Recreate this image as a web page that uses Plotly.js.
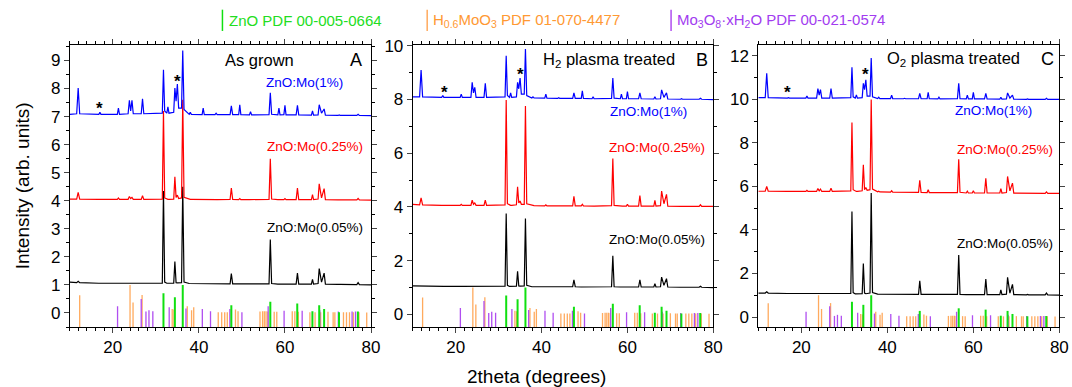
<!DOCTYPE html>
<html>
<head>
<meta charset="utf-8">
<script src="https://cdn.plot.ly/plotly-3.0.1.min.js"></script>
<style>html,body{margin:0;padding:0;background:#fff;}#chart{width:1072px;height:387px;}</style>
</head>
<body>
<div id="chart"></div>
<script>
// shared 2theta sampling grid (degrees)
const twoTheta = [10,11.6,11.95,12.3,16.75,17.0,17.25,21.05,21.3,21.55,23.55,23.85,24.15,24.45,24.75,26.6,26.9,27.2,31.5,31.77,32.05,32.55,32.8,33.05,34.15,34.42,34.7,35.0,35.3,35.97,36.25,36.55,37.75,38.0,38.25,40.75,41.0,41.25,43.75,44.0,44.25,47.25,47.54,47.85,49.25,49.5,49.75,51.75,52.0,52.25,56.3,56.6,56.9,58.35,58.6,58.85,59.75,60.0,60.25,62.6,62.9,63.2,66.15,66.4,66.65,67.7,67.96,68.5,69.1,69.4,72.35,72.6,72.85,76.7,77.0,77.3,80];

// Panel A: as grown
const grownMo005 = [1.1,1.08,1.13,1.08,1.06,1.06,1.06,1.06,1.06,1.06,1.06,1.06,1.06,1.06,1.06,1.06,1.06,1.06,1.06,4.35,1.1,1.06,1.06,1.06,1.06,1.83,1.08,1.07,1.07,1.08,4.5,1.1,1.05,1.05,1.05,1.05,1.05,1.05,1.05,1.05,1.05,1.04,1.4,1.04,1.04,1.04,1.04,1.04,1.04,1.04,1.04,2.62,1.05,1.03,1.03,1.03,1.03,1.03,1.03,1.03,1.42,1.03,1.03,1.2,1.03,1.05,1.58,1.1,1.42,1.03,1.02,1.03,1.02,1.01,1.08,1.01,1.0];
const grownMo025 = [4.06,4.06,4.3,4.06,4.05,4.05,4.05,4.05,4.1,4.05,4.05,4.15,4.08,4.12,4.05,4.05,4.18,4.05,4.06,7.2,4.1,4.05,4.05,4.05,4.06,4.85,4.12,4.2,4.08,4.1,7.6,4.12,4.05,4.05,4.05,4.04,4.06,4.04,4.04,4.04,4.04,4.05,4.45,4.05,4.04,4.08,4.04,4.04,4.04,4.04,4.05,5.5,4.06,4.04,4.05,4.04,4.04,4.08,4.04,4.04,4.45,4.04,4.04,4.22,4.04,4.06,4.6,4.1,4.43,4.04,4.03,4.03,4.03,4.03,4.08,4.03,4.02];
const grownMo1 = [7.08,7.1,8.02,7.1,7.08,7.15,7.08,7.08,7.3,7.08,7.1,7.58,7.2,7.58,7.1,7.1,7.63,7.1,7.12,8.67,7.2,7.12,7.35,7.12,7.15,8.02,7.55,8.16,7.3,7.3,9.35,7.25,7.08,7.15,7.08,7.07,7.3,7.07,7.07,7.12,7.07,7.07,7.38,7.07,7.07,7.42,7.07,7.06,7.17,7.06,7.07,7.85,7.08,7.06,7.3,7.06,7.07,7.4,7.06,7.06,7.4,7.06,7.05,7.2,7.05,7.06,7.42,7.12,7.27,7.05,7.04,7.06,7.04,7.04,7.08,7.04,7.03];

// Panel B: H2 plasma treated
const h2Mo005 = [1.06,1.05,1.05,1.05,1.04,1.04,1.04,1.04,1.04,1.04,1.04,1.04,1.04,1.04,1.04,1.04,1.04,1.04,1.05,3.76,1.08,1.04,1.04,1.04,1.05,1.6,1.06,1.05,1.05,1.06,3.57,1.08,1.03,1.03,1.03,1.03,1.03,1.03,1.03,1.03,1.03,1.03,1.29,1.03,1.02,1.02,1.02,1.02,1.02,1.02,1.03,2.18,1.03,1.02,1.02,1.02,1.02,1.02,1.02,1.02,1.29,1.02,1.02,1.14,1.02,1.03,1.39,1.08,1.33,1.02,1.01,1.01,1.01,1.01,1.05,1.01,1.0];
const h2Mo025 = [4.1,4.08,4.34,4.08,4.06,4.06,4.06,4.06,4.1,4.06,4.06,4.25,4.1,4.15,4.06,4.06,4.25,4.06,4.08,7.98,4.12,4.06,4.06,4.06,4.08,4.75,4.15,4.22,4.1,4.1,7.76,4.12,4.05,4.05,4.05,4.04,4.08,4.04,4.04,4.04,4.04,4.04,4.4,4.04,4.04,4.1,4.04,4.03,4.03,4.03,4.05,5.8,4.06,4.03,4.05,4.03,4.03,4.1,4.03,4.03,4.42,4.03,4.03,4.25,4.03,4.05,4.59,4.12,4.47,4.03,4.02,4.02,4.02,4.02,4.08,4.02,4.02];
const h2Mo1 = [8.1,8.1,9.1,8.1,8.08,8.15,8.08,8.08,8.2,8.08,8.08,8.64,8.25,8.45,8.08,8.08,8.6,8.08,8.1,9.63,8.15,8.08,8.25,8.08,8.1,8.64,8.4,8.8,8.2,8.2,9.88,8.15,8.06,8.1,8.06,8.05,8.2,8.05,8.04,8.07,8.04,8.04,8.25,8.04,8.04,8.32,8.04,8.03,8.1,8.03,8.04,8.8,8.05,8.03,8.2,8.03,8.03,8.3,8.03,8.03,8.25,8.03,8.02,8.1,8.02,8.03,8.36,8.08,8.25,8.02,8.01,8.03,8.01,8.01,8.05,8.01,8.0];

// Panel C: O2 plasma treated
const o2Mo005 = [1.1,1.1,1.16,1.1,1.08,1.08,1.08,1.07,1.07,1.07,1.07,1.07,1.07,1.07,1.07,1.07,1.07,1.07,1.08,4.85,1.12,1.06,1.06,1.06,1.07,2.46,1.1,1.07,1.07,1.1,5.7,1.12,1.05,1.05,1.05,1.05,1.05,1.05,1.04,1.04,1.04,1.04,1.66,1.04,1.04,1.04,1.04,1.03,1.03,1.03,1.04,2.85,1.04,1.03,1.03,1.03,1.03,1.03,1.03,1.03,1.74,1.03,1.03,1.25,1.03,1.05,1.82,1.1,1.5,1.03,1.02,1.04,1.02,1.02,1.1,1.02,1.01];
const o2Mo025 = [5.78,5.78,6.0,5.78,5.77,5.77,5.77,5.77,5.82,5.77,5.77,5.9,5.8,5.88,5.77,5.77,5.92,5.77,5.8,8.94,5.85,5.77,5.77,5.77,5.8,7.0,5.85,5.95,5.82,5.85,10.0,5.88,5.75,5.78,5.75,5.74,5.8,5.74,5.73,5.73,5.73,5.73,6.28,5.73,5.72,5.85,5.72,5.71,5.71,5.71,5.72,7.25,5.73,5.7,5.78,5.7,5.7,5.8,5.7,5.7,6.38,5.7,5.7,5.9,5.7,5.72,6.46,5.8,6.15,5.69,5.69,5.7,5.69,5.68,5.75,5.68,5.68];
const o2Mo1 = [10.08,10.08,11.2,10.08,10.06,10.08,10.06,10.06,10.15,10.06,10.06,10.5,10.2,10.45,10.06,10.06,10.5,10.06,10.08,11.48,10.12,10.06,10.2,10.06,10.08,10.74,10.45,10.9,10.15,10.15,11.9,10.12,10.04,10.1,10.04,10.04,10.2,10.04,10.03,10.05,10.03,10.03,10.28,10.03,10.03,10.33,10.03,10.02,10.1,10.02,10.03,10.74,10.03,10.02,10.2,10.02,10.02,10.32,10.02,10.02,10.28,10.02,10.01,10.1,10.01,10.02,10.3,10.06,10.2,10.01,10.0,10.02,10.0,10.0,10.05,10.0,10.0];

// Reference patterns (stick positions and relative intensities)
const znoPos = [31.77,34.42,36.25,47.54,56.6,62.86,66.38,67.96,69.1,72.56,76.95];
const znoInt = [0.7,0.56,1.0,0.28,0.4,0.34,0.06,0.28,0.14,0.03,0.05];
const hmoPos = [12.3,24.0,24.7,26.8,33.8,34.2,37.3,38.3,38.8,44.5,45.3,46.0,46.6,48.5,49.1,54.2,54.8,55.2,55.6,56.0,57.5,58.1,61.7,62.3,63.1,65.8,67.0,68.3,70.0,71.2,71.6,73.6,74.3,75.0,75.9,77.2,79.0];
const hmoInt = [0.63,1.0,0.37,0.64,0.14,0.12,0.24,0.1,0.2,0.03,0.03,0.03,0.03,0.12,0.06,0.05,0.06,0.06,0.06,0.05,0.04,0.04,0.06,0.06,0.04,0.03,0.03,0.03,0.04,0.03,0.03,0.03,0.03,0.03,0.03,0.03,0.02];
const moxPos = [21.1,26.6,27.7,28.4,29.3,33.1,37.0,40.8,42.7,47.2,50.0,56.1,59.8,64.0,68.1,72.4,75.6,76.4];
const moxInt = [0.24,0.5,0.05,0.1,0.06,0.2,0.16,0.14,0.06,0.14,0.03,0.24,0.08,0.08,0.1,0.05,0.05,0.05];

const sampleLabels = ['ZnO:Mo(0.05%)','ZnO:Mo(0.25%)','ZnO:Mo(1%)'];
const panelTitles = ['As grown','H<sub>2</sub> plasma treated','O<sub>2</sub> plasma treated'];
const panelLetters = ['A','B','C'];
const legendLabels = ['ZnO PDF 00-005-0664','H<sub>0.6</sub>MoO<sub>3</sub> PDF 01-070-4477','Mo<sub>3</sub>O<sub>8</sub>·xH<sub>2</sub>O PDF 00-021-0574'];

const FONT = 'Liberation Sans, Arial, sans-serif';
const cGreen = '#10e010', cOrange = '#ffaa5e', cPurple = '#b04ef0';
const stickBase = -1;

function sticks(pos, h) {
  const x = [], y = [];
  pos.forEach((p, i) => { x.push(p, p, null); y.push(stickBase, h[i], null); });
  return {x, y};
}

const panels = [
  {curves:[grownMo005, grownMo025, grownMo1], range:[-0.5,9.55], dtick:1, minor:0.5,
   dom:[0.0651,0.3461],
   labels:[[67,3.03],[67,5.93],[64.5,8.2]], title:[54,9.0], letter:[76.5,9.0], stars:[[17,7.3],[35,8.25]]},
  {curves:[h2Mo005, h2Mo025, h2Mo1], range:[-0.47,10.03], dtick:2, minor:1,
   dom:[0.385,0.6654],
   labels:[[67,2.79],[67,6.22],[64.8,7.57]], title:[55.8,9.48], letter:[77.3,9.48], stars:[[17.3,8.27],[35.2,8.95]]},
  {curves:[o2Mo005, o2Mo025, o2Mo1], range:[-0.46,12.5], dtick:2, minor:1,
   dom:[0.7074,0.9882],
   labels:[[67.3,3.39],[67.3,7.69],[64.7,9.49]], title:[55.4,11.85], letter:[77.3,11.85], stars:[[16.8,10.32],[35,11.15]]}
];
const curveColors = ['#000000','#ff0000','#0000ff'];

const traces = [], annotations = [], layout = {
  width:1072, height:387, margin:{l:0,r:0,t:0,b:0},
  paper_bgcolor:'#fff', plot_bgcolor:'#fff', showlegend:false,
  font:{family:FONT, size:17, color:'#000'}
};

panels.forEach((pn, k) => {
  const xa = k === 0 ? 'x' : 'x' + (k+1);
  const ya = k === 0 ? 'y' : 'y' + (k+1);
  const zs = sticks(znoPos, znoInt), hs = sticks(hmoPos, hmoInt), ms = sticks(moxPos, moxInt);
  traces.push({x:hs.x, y:hs.y, xaxis:xa, yaxis:ya, mode:'lines', line:{color:cOrange, width:1.3}, hoverinfo:'skip'});
  traces.push({x:ms.x, y:ms.y, xaxis:xa, yaxis:ya, mode:'lines', line:{color:cPurple, width:1.3}, hoverinfo:'skip'});
  traces.push({x:zs.x, y:zs.y, xaxis:xa, yaxis:ya, mode:'lines', line:{color:cGreen, width:2}, hoverinfo:'skip'});
  pn.curves.forEach((c, j) => {
    traces.push({x:twoTheta, y:c, xaxis:xa, yaxis:ya, mode:'lines', line:{color:curveColors[j], width:1.2}});
    annotations.push({xref:xa, yref:ya, x:pn.labels[j][0], y:pn.labels[j][1], text:sampleLabels[j], showarrow:false,
      font:{family:FONT, size:13.5, color:curveColors[j]}});
  });
  annotations.push({xref:xa, yref:ya, x:pn.title[0], y:pn.title[1], text:panelTitles[k], showarrow:false, font:{family:FONT, size:16.5}});
  annotations.push({xref:xa, yref:ya, x:pn.letter[0], y:pn.letter[1], text:panelLetters[k], showarrow:false, font:{family:FONT, size:18}});
  pn.stars.forEach(s => annotations.push({xref:xa, yref:ya, x:s[0], y:s[1], text:'<b>*</b>', showarrow:false, font:{family:FONT, size:17}}));

  layout['xaxis' + (k===0?'':k+1)] = {
    domain:pn.dom, anchor:ya, range:[10,80], tick0:0, dtick:20, ticks:'outside', ticklen:5, tickwidth:1,
    minor:{dtick:2, ticklen:3, ticks:'outside', tickcolor:'#000'},
    showline:true, linecolor:'#000', linewidth:1, mirror:'allticks', showgrid:false, zeroline:false,
    tickfont:{family:FONT, size:17}
  };
  layout['yaxis' + (k===0?'':k+1)] = {
    domain:[0.155,0.8837], anchor:xa, range:pn.range, dtick:pn.dtick, tick0:0, ticks:'outside', ticklen:5, tickwidth:1,
    minor:{dtick:pn.minor, ticklen:3, ticks:'outside', tickcolor:'#000'},
    showline:true, linecolor:'#000', linewidth:1, mirror:'allticks', showgrid:false, zeroline:false,
    tickfont:{family:FONT, size:17}
  };
});

annotations.push({xref:'paper', yref:'paper', x:0.021, xanchor:'center', y:0.52, yanchor:'middle', text:'Intensity (arb. units)', textangle:-90, showarrow:false, font:{family:FONT, size:19}});
annotations.push({xref:'paper', yref:'paper', x:0.5, xanchor:'center', y:0.028, yanchor:'middle', text:'2theta (degrees)', showarrow:false, font:{family:FONT, size:19}});

// legend
const legColors = [cGreen, cOrange, cPurple];
const legTextColors = ['#22dd22', '#ff9933', '#a23cf0'];
const legX = [0.2075, 0.3985, 0.626];
const shapes = [];
legendLabels.forEach((t, i) => {
  shapes.push({type:'line', xref:'paper', yref:'paper', x0:legX[i], x1:legX[i], y0:0.92, y1:0.975, line:{color:legColors[i], width:1.5}});
  annotations.push({xref:'paper', yref:'paper', x:legX[i] + 0.004, y:0.948, xanchor:'left', yanchor:'middle', text:t, showarrow:false,
    font:{family:FONT, size:15, color:legTextColors[i]}});
});
layout.shapes = shapes;
layout.annotations = annotations;

Plotly.newPlot('chart', traces, layout, {displayModeBar:false, staticPlot:true});
</script>
</body>
</html>
